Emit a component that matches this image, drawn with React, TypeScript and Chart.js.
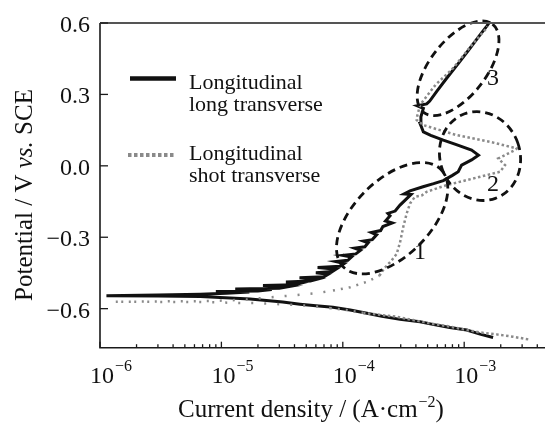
import React, { useEffect, useRef } from 'react';
import { Chart, registerables } from 'chart.js';

Chart.register(...registerables);

// Longitudinal – long transverse (solid black): cathodic end -> Ecorr -> anodic branch
const llCurrent = [
  1.73e-3, 1.35e-3, 1.05e-3, 7.6e-4, 5.5e-4, 4.33e-4, 2.96e-4, 2.1e-4, 1.58e-4, 1.15e-4,
  8.3e-5, 6.0e-5, 4.44e-5, 3.2e-5, 1.72e-5, 6.7e-6, 3.0e-6, 1.13e-6,
  3.0e-6, 6.7e-6, 1.1e-5, 1.7e-5, 9.0e-6, 2.0e-5, 2.6e-5, 1.3e-5, 3.0e-5, 3.6e-5,
  2.2e-5, 4.0e-5, 4.6e-5, 3.4e-5, 5.4e-5, 6.2e-5, 4.4e-5, 7.0e-5, 7.6e-5, 6.0e-5,
  8.2e-5, 8.8e-5, 6.2e-5, 9.5e-5, 1.03e-4, 8.8e-5, 1.1e-4, 1.18e-4, 1.0e-4, 1.28e-4,
  1.4e-4, 1.25e-4, 1.52e-4, 1.62e-4, 1.48e-4, 1.75e-4, 1.9e-4, 1.72e-4, 2.05e-4, 2.14e-4,
  2.55e-4, 2.25e-4, 2.45e-4, 2.35e-4, 2.7e-4, 2.96e-4, 3.65e-4, 3.2e-4, 3.58e-4, 4.58e-4,
  5.6e-4, 6.73e-4, 8.0e-4, 8.93e-4, 9.52e-4, 1.15e-3, 1.31e-3, 1.15e-3, 8.5e-4, 6.73e-4,
  5.3e-4, 4.61e-4, 4.33e-4, 4.4e-4, 4.61e-4, 4.1e-4, 4.91e-4, 5.2e-4, 5.94e-4, 7.17e-4,
  9.23e-4, 1.12e-3, 1.35e-3, 1.53e-3, 1.6e-3,
];
const llPotential = [
  -0.721, -0.707, -0.69, -0.679, -0.666, -0.655, -0.645, -0.632, -0.619, -0.606,
  -0.594, -0.588, -0.581, -0.572, -0.559, -0.549, -0.547, -0.546,
  -0.543, -0.539, -0.535, -0.53, -0.528, -0.526, -0.52, -0.517, -0.514, -0.507,
  -0.503, -0.5, -0.492, -0.488, -0.484, -0.476, -0.47, -0.466, -0.455, -0.449,
  -0.444, -0.434, -0.427, -0.422, -0.41, -0.402, -0.397, -0.383, -0.376, -0.37,
  -0.355, -0.346, -0.34, -0.323, -0.316, -0.31, -0.29, -0.28, -0.272, -0.255,
  -0.24, -0.232, -0.21, -0.2, -0.19, -0.165, -0.12, -0.118, -0.105, -0.088,
  -0.075, -0.062, -0.04, -0.025, 0.003, 0.025, 0.045, 0.066, 0.09, 0.108,
  0.128, 0.143, 0.178, 0.206, 0.241, 0.252, 0.26, 0.272, 0.313, 0.368,
  0.439, 0.495, 0.55, 0.586, 0.6,
];

// Longitudinal – shot transverse (grey dotted)
const stCurrent = [
  3.37e-3, 2.53e-3, 1.85e-3, 1.35e-3, 9.85e-4, 7.17e-4, 5.2e-4, 3.81e-4, 2.78e-4, 1.48e-4,
  1.08e-4, 8.0e-5, 5.0e-5, 3.2e-5, 2.0e-5, 1.42e-5, 6.7e-6, 1.28e-6,
  8.0e-6, 1.6e-5, 2.4e-5, 4.2e-5, 6.1e-5, 8.3e-5, 1.15e-4, 1.58e-4, 2.0e-4, 2.2e-4,
  2.5e-4, 2.78e-4, 2.96e-4, 3.15e-4, 3.36e-4, 3.58e-4, 3.93e-4, 4.46e-4, 4.91e-4, 7.17e-4,
  1.97e-3, 2.17e-3, 1.91e-3, 2.62e-3, 2.72e-3, 1.63e-3, 8.67e-4, 4.61e-4, 4.06e-4, 4.06e-4,
  4.33e-4, 5.8e-4, 8.1e-4, 1.1e-3, 1.33e-3, 1.48e-3, 1.55e-3,
];
const stPotential = [
  -0.729, -0.718, -0.708, -0.7, -0.687, -0.673, -0.662, -0.648, -0.634, -0.618,
  -0.606, -0.598, -0.587, -0.582, -0.577, -0.576, -0.572, -0.571,
  -0.568, -0.562, -0.553, -0.543, -0.535, -0.524, -0.51, -0.487, -0.462, -0.43,
  -0.4, -0.37, -0.322, -0.256, -0.2, -0.158, -0.13, -0.125, -0.109, -0.081,
  -0.025, 0.003, 0.031, 0.066, 0.073, 0.101, 0.129, 0.171, 0.192, 0.2,
  0.256, 0.34, 0.41, 0.494, 0.544, 0.57, 0.585,
];

const seriesNames = [
  ['Longitudinal', 'long transverse'],
  ['Longitudinal', 'shot transverse'],
];
const yTickValues = [-0.6, -0.3, 0, 0.3, 0.6];
const yTickLabels = ['\u22120.6', '\u22120.3', '0.0', '0.3', '0.6'];
const xTickExponents = [-6, -5, -4, -3];
const xTickSupers = ['\u22126', '\u22125', '\u22124', '\u22123'];

// annotated regions (centre in data units) and their labels
const regionNames = ['1', '2', '3'];
const regionCurrent = [2.55e-4, 1.35e-3, 8.9e-4];
const regionPotential = [-0.22, 0.041, 0.41];
const regionLabelCurrent = [4.33e-4, 1.73e-3, 1.73e-3];
const regionLabelPotential = [-0.367, -0.081, 0.364];

const X_MIN = 1e-6;
const X_MAX = 4.63e-3;
const Y_MIN = -0.764;
const Y_MAX = 0.6;

const FONT = '"Liberation Serif", "Times New Roman", serif';
const ellipseShapes = [
  { rx: 69, ry: 38, rot: -45 },
  { rx: 40, ry: 45, rot: -20 },
  { rx: 56, ry: 28, rot: -52 },
];

const decorPlugin = {
  id: 'decor',
  afterDatasetsDraw(chart: any) {
    const { ctx, chartArea: ca, scales } = chart;
    const xs = scales.x;
    const ys = scales.y;
    ctx.save();

    // dashed ellipses
    ctx.strokeStyle = '#111';
    ctx.lineWidth = 2.8;
    ctx.setLineDash([8, 5]);
    regionCurrent.forEach((c, i) => {
      const cx = xs.getPixelForValue(c);
      const cy = ys.getPixelForValue(regionPotential[i]);
      const s = ellipseShapes[i];
      ctx.beginPath();
      ctx.ellipse(cx, cy, s.rx, s.ry, (s.rot * Math.PI) / 180, 0, Math.PI * 2);
      ctx.stroke();
    });
    ctx.setLineDash([]);

    ctx.fillStyle = '#111';
    ctx.font = `24px ${FONT}`;
    ctx.textAlign = 'center';
    ctx.textBaseline = 'middle';
    regionNames.forEach((n, i) => {
      ctx.fillText(n, xs.getPixelForValue(regionLabelCurrent[i]), ys.getPixelForValue(regionLabelPotential[i]));
    });

    // axes
    ctx.strokeStyle = '#1a1a1a';
    ctx.lineWidth = 1.6;
    ctx.beginPath();
    ctx.moveTo(ca.left, ca.top);
    ctx.lineTo(ca.left, ca.bottom);
    ctx.lineTo(ca.right, ca.bottom);
    ctx.stroke();
    ctx.strokeStyle = '#555';
    ctx.lineWidth = 2;
    ctx.beginPath();
    ctx.moveTo(ca.left, ca.top);
    ctx.lineTo(ca.right, ca.top);
    ctx.stroke();

    // y ticks (inward) and labels
    ctx.strokeStyle = '#1a1a1a';
    ctx.lineWidth = 1.3;
    ctx.font = `24px ${FONT}`;
    ctx.textAlign = 'right';
    ctx.textBaseline = 'alphabetic';
    yTickValues.forEach((v, i) => {
      const py = ys.getPixelForValue(v);
      ctx.beginPath();
      ctx.moveTo(ca.left, py);
      ctx.lineTo(ca.left + 8, py);
      ctx.stroke();
      ctx.fillText(yTickLabels[i], ca.left - 10, py + 9);
    });

    // x ticks (inward) major + minor
    for (let e = -6; e <= -3; e++) {
      for (let m = 1; m <= 9; m++) {
        const v = m * Math.pow(10, e);
        if (v < X_MIN || v > X_MAX) continue;
        const px = xs.getPixelForValue(v);
        const len = m === 1 ? 6 : 3.5;
        ctx.beginPath();
        ctx.moveTo(px, ca.bottom);
        ctx.lineTo(px, ca.bottom - len);
        ctx.stroke();
      }
    }
    ctx.textAlign = 'left';
    xTickExponents.forEach((e, i) => {
      const px = xs.getPixelForValue(Math.pow(10, e));
      ctx.font = `24px ${FONT}`;
      ctx.fillText('10', px - 10, ca.bottom + 35);
      const w = ctx.measureText('10').width;
      ctx.font = `16px ${FONT}`;
      ctx.fillText(xTickSupers[i], px - 10 + w + 1, ca.bottom + 23);
    });

    // x title
    const t1 = 'Current density / (A\u00b7cm';
    const t2 = '\u22122';
    const t3 = ')';
    ctx.font = `25px ${FONT}`;
    const w1 = ctx.measureText(t1).width;
    const w3 = ctx.measureText(t3).width;
    ctx.font = `16px ${FONT}`;
    const w2 = ctx.measureText(t2).width;
    const total = w1 + w2 + w3 + 1;
    const cxT = 311;
    let sx = cxT - total / 2;
    ctx.font = `25px ${FONT}`;
    ctx.fillText(t1, sx, 417);
    sx += w1 + 1;
    ctx.font = `16px ${FONT}`;
    ctx.fillText(t2, sx, 407);
    sx += w2;
    ctx.font = `25px ${FONT}`;
    ctx.fillText(t3, sx, 417);

    // y title (rotated, with italic "vs.")
    const parts = [
      { t: 'Potential / V ', it: false },
      { t: 'vs.', it: true },
      { t: ' SCE', it: false },
    ];
    let tw = 0;
    const widths = parts.map((p) => {
      ctx.font = `${p.it ? 'italic ' : ''}25px ${FONT}`;
      const w = ctx.measureText(p.t).width;
      tw += w;
      return w;
    });
    ctx.save();
    ctx.translate(32, 195);
    ctx.rotate(-Math.PI / 2);
    let ox = -tw / 2;
    parts.forEach((p, i) => {
      ctx.font = `${p.it ? 'italic ' : ''}25px ${FONT}`;
      ctx.fillText(p.t, ox, 0);
      ox += widths[i];
    });
    ctx.restore();

    // legend
    ctx.lineCap = 'butt';
    ctx.strokeStyle = '#111';
    ctx.lineWidth = 4.5;
    ctx.beginPath();
    ctx.moveTo(130, 78.5);
    ctx.lineTo(176, 78.5);
    ctx.stroke();
    ctx.strokeStyle = '#8a8a8a';
    ctx.lineWidth = 4;
    ctx.setLineDash([3.5, 2.5]);
    ctx.beginPath();
    ctx.moveTo(128, 155);
    ctx.lineTo(176, 155);
    ctx.stroke();
    ctx.setLineDash([]);
    ctx.fillStyle = '#111';
    ctx.font = `22px ${FONT}`;
    ctx.textAlign = 'left';
    ctx.fillText(seriesNames[0][0], 189, 89);
    ctx.fillText(seriesNames[0][1], 189, 111);
    ctx.fillText(seriesNames[1][0], 189, 160);
    ctx.fillText(seriesNames[1][1], 189, 182);

    ctx.restore();
  },
};

export default function App() {
  const ref = useRef<HTMLCanvasElement | null>(null);
  useEffect(() => {
    if (!ref.current) return;
    const chart = new Chart(ref.current, {
      type: 'scatter',
      data: {
        datasets: [
          {
            label: seriesNames[1].join(' '),
            data: stCurrent.map((x, i) => ({ x, y: stPotential[i] })),
            showLine: true,
            borderColor: '#8a8a8a',
            borderWidth: 2.5,
            borderDash: [2.5, 2.5],
            segment: {
              borderDash: (c: any) => {
                const xm = Math.max(stCurrent[c.p0DataIndex], stCurrent[c.p1DataIndex]);
                if (xm < 8.5e-5) return [2, 11];
                if (xm < 2.1e-4) return [2, 6];
                return [2.5, 2.5];
              },
            },
            pointRadius: 0,
            tension: 0,
          },
          {
            label: seriesNames[0].join(' '),
            data: llCurrent.map((x, i) => ({ x, y: llPotential[i] })),
            showLine: true,
            borderColor: '#111',
            borderWidth: 3,
            pointRadius: 0,
            tension: 0,
          },
        ],
      },
      options: {
        animation: false,
        responsive: true,
        maintainAspectRatio: false,
        layout: { padding: { left: 100, top: 23, right: 0, bottom: 75.3 } },
        plugins: { legend: { display: false }, tooltip: { enabled: false } },
        scales: {
          x: { type: 'logarithmic', min: X_MIN, max: X_MAX, display: false },
          y: { type: 'linear', min: Y_MIN, max: Y_MAX, display: false },
        },
      },
      plugins: [decorPlugin],
    });
    return () => chart.destroy();
  }, []);
  return (
    <div style={{ position: 'absolute', left: 0, top: 0, width: 545, height: 423, background: '#fff' }}>
      <canvas ref={ref} />
    </div>
  );
}
